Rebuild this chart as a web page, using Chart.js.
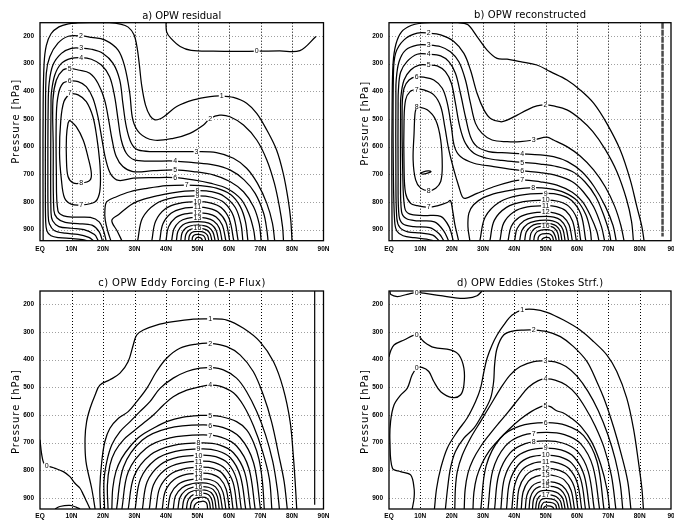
<!DOCTYPE html>
<html>
<head>
<meta charset="utf-8">
<script src="https://cdn.jsdelivr.net/npm/chart.js@4.4.1/dist/chart.umd.min.js"></script>
<style>
  html, body { margin: 0; padding: 0; background: #fff; }
  #wrap { position: relative; width: 674px; height: 527px; overflow: hidden; background: #fff; }
  #wrap canvas { position: absolute; }
</style>
</head>
<body>
<div id="wrap">
  <canvas id="pa" width="337" height="263" style="left:0;top:0"></canvas>
  <canvas id="pb" width="337" height="263" style="left:337px;top:0"></canvas>
  <canvas id="pc" width="337" height="264" style="left:0;top:263px"></canvas>
  <canvas id="pd" width="337" height="264" style="left:337px;top:263px"></canvas>
</div>
<script>
// Latitude axis (degrees north) and its labels
const latTicks = [0, 10, 20, 30, 40, 50, 60, 70, 80, 90];
const latNamesFull = ['EQ', '10N', '20N', '30N', '40N', '50N', '60N', '70N', '80N', '90N'];
const latNamesTrim = ['EQ', '10N', '20N', '30N', '40N', '50N', '60N', '70N', '80N', '90'];
// Pressure axis (hPa)
const pressureTicks = [200, 300, 400, 500, 600, 700, 800, 900];
const pressureTop = 152;
const pressureBottom = 940;

// Each contour: [level, [[lat, pressure], ...]]

// a) OPW residual circulation
const residualLines = [
  [0, [[40,152],[40.2,185],[41.5,208],[44.5,238],[48,252],[55,255],[62,256],[68.8,255],[76,254],[82.5,253],[87.6,202]]],
  [1, [[1.0,940],[0.95,700],[1.0,450],[1.3,300],[2,235],[3.5,192],[6,167],[9,156],[12,153],[16,152],[22,152],[25.5,157],[28,168],[29.8,195],[30.8,240],[31.5,300],[32.3,380],[33.5,450],[35,490],[36.5,503],[38,500],[39.5,490],[43.4,455],[48.7,431],[54,419],[57.7,417],[61.4,422],[65.6,443],[68.8,480],[72,540],[75.1,612],[77.2,696],[78.8,793],[79.6,865],[80,940]]],
  [2, [[15,940],[13.5,936],[10,932],[6,929],[3.5,922],[2.2,905],[1.8,870],[1.7,750],[1.75,500],[2.0,335],[3.1,275],[5.7,226],[9,201],[13,200],[16.3,205],[20.5,214],[24.8,251],[26.9,311],[28.5,407],[29.5,504],[31.7,552],[36,576],[42.3,570],[47.6,552],[51.9,522],[54,498],[57.1,486],[60.3,492],[64.6,522],[68.8,576],[72,648],[74.4,732],[76,817],[77,890],[77.3,940]]],
  [3, [[17,940],[15.5,928],[12,917],[8,913],[4.5,903],[3,880],[2.6,850],[2.5,700],[2.6,450],[2.9,371],[4.1,305],[6.8,263],[9.9,245],[13.1,244],[16.3,248],[20,263],[23.2,299],[25.3,359],[26.3,443],[27.4,528],[29,588],[31.1,612],[36,618],[42.3,618],[49.7,618],[56,622],[61.4,642],[65.6,678],[69,732],[72,805],[73.8,877],[74.5,940]]],
  [4, [[18.5,940],[17.3,918],[14,900],[10,895],[6,889],[4,868],[3.5,840],[3.4,650],[3.5,450],[3.6,407],[4.7,341],[6.8,299],[9.9,281],[13.1,278],[16.3,284],[19.5,305],[22.1,347],[23.7,419],[24.8,504],[25.8,576],[27.4,624],[30,648],[34.9,652],[42.9,652],[48.7,658],[55,666],[60.3,684],[64.8,720],[68.3,769],[71,841],[72,900],[72.4,940]]],
  [5, [[19.8,940],[18.8,908],[16.5,884],[12,878],[8,874],[5.4,858],[4.4,830],[4.2,600],[4.1,431],[5.2,359],[7.3,323],[9.4,317],[12.1,323],[15.8,335],[18.4,371],[20.5,431],[21.8,504],[22.9,576],[24.2,636],[26.3,672],[29.5,690],[36,687],[42.9,684],[48.7,690],[55,702],[60.3,726],[64.6,763],[67.8,817],[69.6,880],[70.2,940]]],
  [6, [[21,940],[20.2,905],[18.8,872],[16,856],[11,855],[7.5,850],[5.7,832],[5.2,700],[5.2,480],[5.9,407],[7.3,371],[9.4,363],[12.1,365],[14.7,383],[16.8,425],[18.4,492],[19.7,576],[20.9,648],[22.5,700],[25,722],[29.6,714],[36,712],[42.9,712],[48.7,720],[54,732],[59.5,752],[63.8,790],[66.4,845],[67.8,900],[68.3,940]]],
  [7, [[9.4,407],[12.1,413],[14.7,437],[16.8,492],[18,564],[18.9,648],[19.2,720],[18.8,772],[17.4,800],[13.1,811],[9.9,808],[7.8,786],[6.8,720],[6.2,624],[6.6,504],[7.6,437],[9.4,407]]],
  [7, [[22.5,940],[21.5,905],[20.7,865],[20.6,830],[21.2,799],[24.3,781],[28.6,763],[33.9,751],[40.2,741],[46.6,739],[51,741],[56,750],[60.5,773],[63.5,815],[65.2,870],[66,940]]],
  [8, [[9.4,504],[11.5,528],[13.7,576],[15.2,636],[16.3,696],[15.8,722],[13.1,732],[10.5,731],[8.9,708],[8.4,648],[8.4,564],[8.9,516],[9.4,504]]],
  [8, [[26,940],[24.5,905],[22.8,867],[25,845],[27.5,822],[29.6,805],[33,790],[37.5,777],[42,767],[46,761],[50,759],[54.5,763],[58.5,780],[62,820],[63.8,880],[64.4,940]]],
  [9, [[31,940],[32.5,859],[36.7,807],[42.4,784.5],[50,778],[54.5,783],[58.4,802],[61.4,851],[62.9,940]]],
  [10, [[35.5,940],[36.7,870],[39.9,824],[44.2,805],[50,799],[54,803],[57.5,820],[60.1,862],[61.5,940]]],
  [11, [[38,940],[39,880],[41.6,841],[45.2,824],[50,819],[53.6,823],[56.6,837],[59,873],[60.2,940]]],
  [12, [[40,940],[40.8,890],[43,857],[46,843],[50,839],[53.2,842],[55.9,854],[57.9,884],[59,940]]],
  [13, [[41.8,940],[42.5,898],[44.3,871],[46.7,859],[50,856],[52.7,858.5],[55.1,868.6],[56.9,893.8],[57.8,940]]],
  [14, [[43.3,940],[43.8,905.5],[45.3,883.4],[47.3,873.8],[50,871],[52.3,873],[54.4,881.4],[55.9,902],[56.7,940]]],
  [15, [[44.7,940],[45.1,912],[46.3,894],[47.9,886],[50,884],[52,885.7],[53.6,892.4],[54.9,909],[55.6,940]]],
  [16, [[46,940],[46.3,917.5],[47.2,903],[48.4,896.8],[50,895],[51.6,896.4],[53,901.8],[54,915],[54.6,940]]],
  [17, [[47.2,940],[47.4,923],[48,912],[48.9,907.4],[50,906],[51.3,907],[52.3,911],[53.2,921.3],[53.6,940]]],
  [18, [[48.3,940],[48.4,928.5],[48.8,921],[49.3,918],[50,917],[50.9,917.7],[51.7,920.5],[52.3,927.4],[52.6,940]]],
  [19, [[49.2,940],[49.5,932],[50,928],[50.8,929],[51.3,933],[51.6,940]]]
];
const residualLabels = [
  ['0',68.8,255],['1',57.7,417],['2',13,200],['2',54,498],['3',13.1,244],['3',49.7,618],
  ['4',13.1,278],['4',42.9,652],['5',9.4,317],['5',42.9,684],['6',9.4,363],['6',42.9,712],
  ['7',9.4,407],['7',13.1,811],['7',46.6,739],['8',13.1,732],['8',50,759],['9',50,778],
  ['10',50,799],['11',50,819],['12',50,839],['13',50,856],['16',50,895]
];

// b) OPW reconstructed
const reconstructedLines = [
  [1, [[1.0,940],[0.9,700],[1.0,450],[1.3,300],[2.2,230],[4,185],[7,162],[10,154],[14,152],[22,152],[25,158],[28.1,202],[31.3,251],[34.5,281],[37.7,284],[41.9,293],[47.2,305],[51.5,329],[56.8,359],[61,395],[65.3,443],[69.5,516],[73.8,612],[77,720],[79.1,817],[80.7,889],[81.4,940]]],
  [2, [[14,940],[12,934],[8,929],[4.5,922],[2.5,905],[1.8,870],[1.4,700],[1.4,347],[2.1,263],[4.8,214],[9,190],[12.7,190],[16.5,196],[20.7,220],[23.9,263],[26,323],[28.1,407],[30.3,467],[32.4,498],[35.6,510],[37.7,504],[40.9,486],[44.1,467],[47.2,453],[49.9,449],[52.5,453],[56.8,467],[61,500],[65,545],[69,610],[72.7,690],[75.8,790],[77.4,870],[78,940]]],
  [3, [[16,940],[14,920],[10,912],[6,908],[3.5,893],[2.5,860],[2.2,700],[2.2,420],[2.3,359],[3.2,293],[5.3,251],[9,233],[12.7,233],[16.5,239],[19.6,257],[22.3,293],[24.4,359],[26,443],[27.6,516],[29.7,552],[32.9,576],[37.7,582],[41.9,582],[46.2,576],[50.4,566],[52.5,576],[56.8,600],[61,634],[65.3,684],[69,745],[72,815],[74,885],[75,940]]],
  [4, [[17.5,940],[16,915],[13,893],[8,889],[4.5,880],[3.2,850],[2.9,700],[2.9,450],[3,395],[3.7,331],[5.8,292],[9,266],[12.7,266],[16.5,272],[19.1,293],[21.2,335],[22.8,407],[24.4,492],[26,564],[28.1,600],[31.8,618],[36,622],[42.5,626],[48.3,630],[52.5,636],[57,654],[61.5,690],[65.5,745],[69,815],[71.5,885],[72.5,940]]],
  [5, [[19,940],[17.5,905],[14.5,872],[9,868],[5.5,860],[4,835],[3.7,700],[3.7,480],[3.8,419],[4.8,359],[6.9,323],[9.6,305],[12.7,305],[15.4,308],[18,329],[19.9,371],[21.2,443],[22.6,528],[24.4,588],[27.1,624],[31.3,642],[36,650],[42.5,657],[48.3,663],[53.6,672],[58.5,690],[62.5,727],[66,781],[68.6,850],[70.3,910],[70.8,940]]],
  [6, [[20.5,940],[19.2,890],[16.5,852],[11,849],[6.5,843],[5,820],[4.4,700],[4.2,455],[4.8,389],[6.4,359],[8.8,347],[11.1,349],[14.3,359],[17,389],[18.6,443],[19.9,528],[20.9,600],[22.8,636],[27.1,660],[33.4,672],[42.5,687],[48.3,694],[53.6,705],[58.5,727],[62,763],[65.3,817],[67.8,889],[68.8,940]]],
  [7, [[22.2,940],[21.8,920],[21,880],[20.3,830],[19.6,795],[18.6,802],[15.4,814],[12.7,819],[9,813],[6.9,805],[5.3,769],[4.8,672],[4.8,504],[5.3,431],[6.7,401],[8.8,393],[11.1,395],[14.3,413],[16.5,455],[17.8,528],[19.1,612],[20.7,684],[22.3,745],[23.4,781],[24.4,787],[28.1,769],[33.4,745],[38.7,727],[42.5,720],[48.3,727],[53.6,739],[58.5,765],[61.8,800],[64.5,855],[66.3,905],[67,940]]],
  [8, [[8.8,455],[12.2,467],[14.9,504],[16.5,576],[17,672],[16.5,726],[14.9,750],[12.7,759],[10.1,750],[8.5,720],[7.7,648],[8,552],[8.3,480],[8.8,455]]],
  [9, [[9.9,697],[11,691],[12.5,688],[13.4,690],[12.8,694],[11,699],[9.9,697]]],
  [8, [[25.8,940],[25.2,890],[25.5,840],[27,810],[30,785],[35,766],[40,755],[46,748],[51,752],[56,766],[60,795],[62.8,845],[64.2,900],[64.6,940]]],
  [9, [[29,940],[30.7,854.5],[35.3,799.8],[41.6,775.8],[50,769],[54.5,774.1],[58.3,794.6],[61.3,846],[62.8,940]]],
  [10, [[32.2,940],[33.6,866.5],[37.5,819.5],[42.9,798.9],[50,793],[53.9,797.4],[57.3,815],[59.9,859],[61.2,940]]],
  [11, [[35.4,940],[36.6,876.5],[39.8,835.9],[44.2,818.1],[50,813],[53.4,816.8],[56.4,832],[58.6,870],[59.8,940]]],
  [12, [[38,940],[39,888.5],[41.6,855.5],[45.2,841.1],[50,837],[53,840.1],[55.5,852.5],[57.5,883.4],[58.5,940]]],
  [13, [[40.1,940],[40.9,896],[43.1,867.8],[46,855.5],[50,852],[52.6,854.6],[54.7,865.2],[56.4,891.6],[57.3,940]]],
  [14, [[41.7,940],[42.4,903],[44.2,879.3],[46.7,869],[50,866],[52.2,868.2],[54,877.1],[55.5,899.3],[56.2,940]]],
  [15, [[43.3,940],[43.8,908.5],[45.3,888.3],[47.3,879.5],[50,877],[51.8,878.9],[53.4,886.5],[54.6,905.4],[55.2,940]]],
  [16, [[44.9,940],[45.3,913.5],[46.4,896.5],[48,889],[50,887],[51.5,888.6],[52.8,895],[53.8,910.9],[54.3,940]]],
  [17, [[46.2,940],[46.5,920],[47.3,907.2],[48.5,901.6],[50,900],[51.2,901.2],[52.2,906],[53,922],[53.4,940]]],
  [18, [[47.5,940],[47.7,927],[48.3,918.7],[49,915],[50,914],[50.9,914.8],[51.6,917.9],[52.2,925.7],[52.5,940]]],
  [19, [[48.7,940],[49,933],[50,928],[51,929],[51.4,933],[51.6,940]]]
];
const reconstructedLabels = [
  ['2',12.7,190],['2',49.9,449],['3',12.7,233],['3',46.2,576],['4',12.7,266],['4',42.5,626],
  ['5',12.7,305],['5',42.5,657],['6',8.8,347],['6',42.5,687],['7',8.8,393],['7',12.7,819],
  ['7',42.5,720],['8',8.8,455],['8',12.7,759],['8',46,748],['9',50,769],['10',50,793],
  ['11',50,813],['12',50,837],['16',50,887]
];
const reconstructedPoleLine = [[87.3,152],[87.3,925]];

// c) OPW eddy forcing (E-P flux)
const forcingLines = [
  [0, [[0,690],[0.5,740],[1.2,775],[2.1,783],[4.8,793],[7.4,805],[9.5,823],[11.1,847],[12.7,865],[13.8,889],[14.8,913],[15.9,940]]],
  [0, [[4.8,940],[6.3,931],[9.5,927],[11.6,934],[12.7,940]]],
  [1, [[17.5,940],[16.4,865],[14.6,769],[14.3,684],[14.8,624],[15.9,576],[17.5,528],[19,492],[22.2,473],[25.4,449],[28,407],[29.6,347],[30.7,311],[32.8,293],[37,275],[42.3,263],[48.7,254],[54,253],[59.3,257],[64.6,287],[69.8,335],[74.1,407],[77.2,504],[79.4,624],[80.4,745],[81,841],[81.5,940]]],
  [2, [[19.2,940],[19,865],[19.6,769],[20.6,696],[22.2,648],[24.9,612],[28,588],[30.7,552],[33.9,504],[37,443],[40.2,395],[44.4,359],[49.7,344],[54,341],[59.3,353],[63.5,383],[67.7,443],[70.9,528],[73.5,624],[75.8,745],[77.5,841],[78.5,940]]],
  [3, [[20.5,940],[20.3,841],[21.2,769],[22.8,708],[25.4,660],[28.6,624],[31.7,588],[34.9,552],[38.1,504],[42.3,467],[46.6,443],[50.8,431],[54,429],[58.2,437],[62.4,467],[65.6,516],[68.8,588],[71.6,672],[73.9,769],[75.3,865],[76,940]]],
  [4, [[21.6,940],[21.4,853],[22.2,781],[23.8,732],[26.5,690],[29.6,660],[32.8,630],[36,600],[39.2,564],[42.3,534],[46.6,510],[50.8,498],[54,492],[57.1,496],[61.4,520],[64.6,566],[67.8,640],[70.6,730],[72.8,830],[73.6,940]]],
  [5, [[22.8,940],[23.1,865],[24.1,805],[25.9,757],[28.6,714],[31.7,678],[36,648],[40.2,624],[45.5,608],[50.8,602],[54,602],[57.1,605],[62.4,624],[65.6,654],[67.8,700],[69.5,760],[70.6,840],[71.2,940]]],
  [6, [[24.3,940],[26.5,788],[32.5,690.7],[40.6,648.2],[51.5,636],[58,645.1],[63.5,681.6],[67.8,772.8],[70,940]]],
  [7, [[26,940],[28,806],[33.7,720.2],[41.3,682.7],[51.5,672],[57.4,680],[62.4,712.2],[66.3,792.6],[68.3,940]]],
  [8, [[28,940],[29.9,820.5],[35.1,744],[42.1,710.6],[51.5,701],[56.9,708.2],[61.4,736.8],[65,808.5],[66.8,940]]],
  [9, [[30.2,940],[31.9,831.5],[36.6,762.1],[43,731.7],[51.5,723],[56.3,729.5],[60.5,755.5],[63.6,820.6],[65.3,940]]],
  [10, [[32.5,940],[34,842.5],[38.2,780.1],[43.9,752.8],[51.5,745],[55.8,750.8],[59.6,774.2],[62.4,832.7],[63.9,940]]],
  [11, [[34.7,940],[36,853.5],[39.7,798.1],[44.8,773.9],[51.5,767],[55.4,772.2],[58.7,793],[61.3,844.8],[62.6,940]]],
  [12, [[36.8,940],[38,864.5],[41.2,816.2],[45.6,795],[51.5,789],[54.9,793.5],[57.9,811.6],[60.1,857],[61.3,940]]],
  [13, [[38.8,940],[39.8,875],[42.6,833.4],[46.4,814.8],[51.5,810],[54.5,813.9],[57.1,829.5],[59.1,868.5],[60.1,940]]],
  [14, [[40.6,940],[41.5,885.5],[43.9,850.6],[47.1,835.4],[51.5,831],[54.1,834.3],[56.4,847.4],[58.1,880],[59,940]]],
  [15, [[42.3,940],[43,893],[45.1,862.9],[47.8,849.8],[51.5,846],[53.7,848.8],[55.7,860.1],[57.1,888.3],[57.9,940]]],
  [16, [[43.8,940],[44.4,899.5],[46.1,873.6],[48.4,862.2],[51.5,859],[53.4,861.4],[55,870.2],[56.3,895.5],[56.9,940]]],
  [17, [[45.2,940],[45.7,905.5],[47.1,883.4],[49,873.8],[51.5,871],[53,873.1],[54.4,881.4],[55.4,902],[55.9,940]]],
  [18, [[46.5,940],[46.9,911.5],[48,893.3],[49.5,885.3],[51.5,883],[52.7,884.7],[53.8,891.6],[54.6,908.7],[55,940]]],
  [19, [[47.7,940],[48,918.5],[48.8,904.7],[50,898.7],[51.5,897],[52.4,898.3],[53.2,903.5],[53.8,916.4],[54.1,940]]],
  [20, [[48.8,940],[49.1,926],[49.9,916.5],[51.5,912],[52.4,914],[53,922],[53.2,940]]]
];
const forcingLabels = [
  ['0',2.1,783],['1',54,253],['2',54,341],['3',54,429],['4',54,492],['5',54,602],['6',54,639],
  ['7',54,675],['8',50.3,702],['9',50.3,724],['10',50.3,746],['11',50.3,768],['12',50.3,790],
  ['13',50.3,811],['14',50.3,832],['16',50.3,860],['18',50.3,884]
];
const forcingPoleLine = [[87.2,152],[87.2,925]];

// d) OPW eddies (Stokes streamfunction)
const stokesLines = [
  [0, [[0.3,152],[0.6,165],[2.7,172],[5.8,164],[8.8,157],[11.1,160],[16.5,169],[20.7,176],[24.9,178],[28.1,169],[29.7,152]]],
  [0, [[0,390],[0.5,370],[1.6,347],[4.8,329],[8.8,311],[11.1,335],[14.3,356],[19.6,365],[22.3,383],[23.9,431],[23.9,492],[22.8,528],[20.2,537],[16.5,516],[14.3,479],[12.7,443],[10.5,428],[8.8,431],[7.4,455],[5.8,504],[3.7,528],[1.6,564],[0.5,624],[0.3,696],[1.1,793],[3.7,805],[6.9,817],[8,865],[8,901],[7.4,940]]],
  [1, [[14.5,940],[15.2,865],[16.5,793],[18.6,720],[21.8,660],[24.9,612],[27.6,552],[29.2,504],[30.3,443],[31.3,395],[32.9,347],[34.5,311],[36.6,275],[39.3,239],[42.5,220],[46.2,218],[50.4,229],[55.7,257],[61,293],[65.3,335],[69.5,383],[72.7,443],[75.9,540],[78,648],[79.6,769],[80.7,865],[81.2,940]]],
  [2, [[18,940],[18.7,865],[19.6,793],[21.2,732],[23.9,684],[27.1,648],[29.7,600],[32.4,540],[33.4,479],[33.7,419],[34.5,359],[36.6,311],[39.8,296],[43,293],[46.2,293],[50.4,299],[54.7,317],[58.9,353],[63.2,407],[66.3,479],[69,552],[71.8,648],[74.2,745],[76.2,841],[77.2,940]]],
  [3, [[21,940],[21.2,865],[21.8,805],[23.4,745],[26,684],[29.2,624],[32.4,564],[35.6,504],[38.7,455],[41.9,425],[46.2,407],[49.9,405],[53,408],[56.5,425],[60,460],[63.5,515],[66.8,585],[69.8,670],[72.2,760],[73.8,850],[74.6,940]]],
  [4, [[24,940],[24.3,870],[25.2,810],[26.8,762],[29.2,715],[32,672],[35,630],[38,590],[41.5,540],[44.5,500],[47.5,477],[49.9,470],[53,474],[56.5,492],[59.7,525],[62.7,575],[65.8,640],[68.7,720],[71,820],[72.4,940]]],
  [5, [[26.8,940],[27.1,880],[28,825],[29.7,775],[32,730],[35,690],[38.5,650],[42,615],[45.5,587],[48.5,570],[49.9,566],[51.5,570],[53.5,585],[55.5,592],[58,610],[61.5,645],[64.8,700],[67.6,780],[69.6,870],[70.4,940]]],
  [6, [[29.3,940],[31,784],[35.5,684.2],[41.7,640.5],[50,628],[56.5,637.4],[62.1,674.8],[66.4,768.4],[68.6,940]]],
  [7, [[31.6,940],[33.1,801.5],[37.1,712.9],[42.6,674.1],[50,663],[56,671.3],[61.2,704.5],[65.1,787.6],[67.2,940]]],
  [8, [[33.7,940],[35,817],[38.6,738.3],[43.5,703.8],[50,694],[55.4,701.4],[60.1,730.9],[63.6,804.7],[65.5,940]]],
  [9, [[35.7,940],[36.8,830],[40,759.6],[44.3,728.8],[50,720],[54.9,726.6],[59.1,753],[62.3,819],[64,940]]],
  [10, [[37.5,940],[38.5,842.5],[41.3,780.1],[45,752.8],[50,745],[54.4,750.9],[58.3,774.2],[61.2,832.7],[62.7,940]]],
  [11, [[39.2,940],[40.1,854.5],[42.4,799.8],[45.7,775.8],[50,769],[54,774.1],[57.5,794.6],[60.1,846],[61.5,940]]],
  [12, [[40.8,940],[41.5,866.5],[43.6,819.5],[46.3,798.9],[50,793],[53.6,797.4],[56.7,815],[59.1,859.1],[60.3,940]]],
  [13, [[42.2,940],[42.8,878.5],[44.5,839.1],[46.9,821.9],[50,817],[53.2,820.7],[56,835.5],[58.1,872.4],[59.2,940]]],
  [14, [[43.5,940],[44,890.5],[45.5,858.8],[47.4,845],[50,841],[52.9,844],[55.3,855.9],[57.2,885.5],[58.2,940]]],
  [15, [[44.7,940],[45.1,898.5],[46.3,871.9],[47.9,860.3],[50,857],[52.5,859.5],[54.7,869.5],[56.3,894.4],[57.2,940]]],
  [16, [[45.8,940],[46.1,906.5],[47.1,885.1],[48.3,875.7],[50,873],[52.2,875],[54,883],[55.5,903.2],[56.2,940]]],
  [17, [[46.8,940],[47.1,914],[47.8,897.4],[48.7,890.1],[50,888],[51.9,889.6],[53.4,895.8],[54.7,911.4],[55.3,940]]],
  [18, [[47.7,940],[47.9,921],[48.4,908.8],[49.1,903.5],[50,902],[51.5,903.1],[52.9,907.7],[53.9,919.1],[54.4,940]]],
  [19, [[48.5,940],[48.7,927.5],[49.4,916],[50,915],[51.3,915.8],[52.5,919],[53.2,926],[53.5,940]]],
  [20, [[49.3,940],[49.6,933],[50.3,929],[51.5,930],[52.3,934],[52.6,940]]]
];
const stokesLabels = [
  ['0',8.8,157],['0',8.8,311],['0',8.8,431],['1',42.5,220],['2',46.2,293],['3',49.9,405],
  ['4',49.9,470],['5',49.9,566],['6',50,628],['7',46.2,667],['8',46.2,698],['9',50,720],
  ['10',50,745],['11',50,769],['12',50,793],['13',50,817],['14',50,841],['15',50,857],['17',50,888]
];

const tickFont = { family: 'Liberation Sans', size: 6.5, weight: 'bold' };

// Layout of the four maps: plot-area edges in canvas pixels and text placement
const panels = [
  { id: 'pa', title: 'a) OPW residual', titleW: 79, titleGap: 3.7, lines: residualLines, labels: residualLabels,
    names: latNamesFull, left: 40, right: 13.5, top: 22.7, axisH: 22.3, tickPad: 4.2, yTitleMid: 99 },
  { id: 'pb', title: 'b) OPW reconstructed', titleW: 112, titleGap: 4.4, lines: reconstructedLines, labels: reconstructedLabels,
    names: latNamesTrim, left: 52, right: 3, top: 22.7, axisH: 22.3, tickPad: 4.2, yTitleMid: 101,
    pole: { pts: reconstructedPoleLine, width: 2.5, color: '#4a4a4a', dash: [6, 1] } },
  { id: 'pc', title: 'c) OPW Eddy Forcing (E-P Flux)', titleW: 167, titleGap: 5.3, lines: forcingLines, labels: forcingLabels,
    names: latNamesFull, left: 40, right: 13.5, top: 28, axisH: 18, tickPad: 3, yTitleMid: 121,
    pole: { pts: forcingPoleLine, width: 1.2, color: '#000', dash: [] } },
  { id: 'pd', title: 'd) OPW Eddies (Stokes Strf.)', titleW: 146, titleGap: 5.3, lines: stokesLines, labels: stokesLabels,
    names: latNamesTrim, left: 52, right: 3, top: 28, axisH: 18, tickPad: 3, yTitleMid: 121 }
];

function spacedText(ctx, text, cx, y, width) {
  ctx.letterSpacing = '0px';
  const natural = ctx.measureText(text).width;
  const gap = (width - natural) / Math.max(1, text.length - 1);
  ctx.letterSpacing = gap.toFixed(2) + 'px';
  ctx.textAlign = 'left';
  ctx.fillText(text, cx - width / 2, y);
  ctx.letterSpacing = '0px';
}

function decorations(P) {
  return {
    id: 'mapDecor',
    beforeDatasetsDraw(chart) {
      const { ctx, chartArea: a, scales: { x, y } } = chart;
      ctx.save();
      ctx.lineWidth = 1;
      ctx.setLineDash([1, 2]);
      ctx.strokeStyle = '#a0a0a0';
      for (const p of pressureTicks) {
        const py = Math.round(y.getPixelForValue(p)) + 0.5;
        ctx.beginPath(); ctx.moveTo(a.left, py); ctx.lineTo(a.right, py); ctx.stroke();
      }
      ctx.strokeStyle = '#000';
      for (const v of latTicks) {
        if (v <= 0 || v >= 90) continue;
        const px = Math.round(x.getPixelForValue(v)) + 0.5;
        ctx.beginPath(); ctx.moveTo(px, a.top); ctx.lineTo(px, a.bottom); ctx.stroke();
      }
      ctx.restore();
    },
    afterDatasetsDraw(chart) {
      const { ctx, chartArea: a, scales: { x, y } } = chart;
      ctx.save();
      // frame
      ctx.setLineDash([]);
      ctx.strokeStyle = '#000';
      ctx.lineWidth = 1.3;
      ctx.strokeRect(a.left, a.top, a.right - a.left, a.bottom - a.top);
      // contour values
      ctx.font = '7px "Liberation Sans"';
      ctx.textBaseline = 'middle';
      for (const [txt, lat, p] of P.labels) {
        const px = x.getPixelForValue(lat), py = y.getPixelForValue(p);
        const w = ctx.measureText(txt).width;
        ctx.fillStyle = '#fff';
        ctx.fillRect(px - w / 2 - 1, py - 2.7, w + 2, 5.4);
        ctx.fillStyle = '#000';
        ctx.textAlign = 'center';
        ctx.fillText(txt, px, py + 0.3);
      }
      // title
      ctx.fillStyle = '#000';
      ctx.font = '10px "DejaVu Sans"';
      ctx.textBaseline = 'alphabetic';
      spacedText(ctx, P.title, (a.left + a.right) / 2, a.top - P.titleGap, P.titleW);
      // vertical axis title
      ctx.translate(a.left - 23.3, a.top + P.yTitleMid);
      ctx.rotate(-Math.PI / 2);
      ctx.font = '10px "DejaVu Sans"';
      ctx.textBaseline = 'middle';
      spacedText(ctx, 'Pressure [hPa]', 0, 0, 84);
      ctx.restore();
    }
  };
}

function buildPanel(P) {
  const datasets = P.lines.map(([level, pts]) => ({
    label: String(level),
    data: pts.map(([lat, p]) => ({ x: lat, y: p })),
    borderColor: '#000',
    borderWidth: 1.25,
    pointRadius: 0,
    tension: 0.35,
    fill: false
  }));
  if (P.pole) {
    datasets.push({
      label: 'pole',
      data: P.pole.pts.map(([lat, p]) => ({ x: lat, y: p })),
      borderColor: P.pole.color,
      borderWidth: P.pole.width,
      borderDash: P.pole.dash,
      pointRadius: 0,
      tension: 0,
      fill: false
    });
  }
  return new Chart(document.getElementById(P.id), {
    type: 'line',
    data: { datasets },
    options: {
      responsive: false,
      animation: false,
      devicePixelRatio: 1,
      events: [],
      layout: { padding: { top: P.top, right: P.right, left: 0, bottom: 0 } },
      plugins: { legend: { display: false }, tooltip: { enabled: false }, title: { display: false } },
      scales: {
        x: {
          type: 'linear', min: 0, max: 90,
          grid: { display: false, drawTicks: false },
          border: { display: false },
          afterBuildTicks: s => { s.ticks = latTicks.map(v => ({ value: v })); },
          afterFit: s => { s.height = P.axisH; s.paddingLeft = 0; s.paddingRight = 0; },
          ticks: { autoSkip: false, maxRotation: 0, minRotation: 0, padding: P.tickPad, color: '#000',
                   font: tickFont, callback: (v, i) => P.names[i] }
        },
        y: {
          type: 'linear', reverse: true, min: pressureTop, max: pressureBottom,
          grid: { display: false, drawTicks: false },
          border: { display: false },
          afterBuildTicks: s => { s.ticks = pressureTicks.map(v => ({ value: v })); },
          afterFit: s => { s.width = P.left; s.paddingTop = 0; s.paddingBottom = 0; },
          ticks: { padding: 6, color: '#000', font: tickFont }
        }
      }
    },
    plugins: [decorations(P)]
  });
}

panels.forEach(buildPanel);
</script>
</body>
</html>
